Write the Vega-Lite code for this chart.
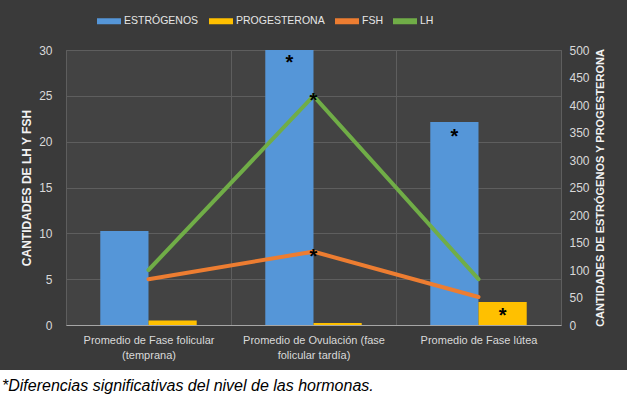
{
  "$schema": "https://vega.github.io/schema/vega-lite/v6.json",
  "background": "#3a3a3a",
  "padding": {"top": 8, "left": 0, "right": 0, "bottom": 0},
  "spacing": 45,
  "bounds": "flush",
  "center": true,
  "datasets": {
    "barras": [
      {"categoria": "Promedio de Fase folicular (temprana)", "hormona": "ESTRÓGENOS", "valor": 171},
      {"categoria": "Promedio de Fase folicular (temprana)", "hormona": "PROGESTERONA", "valor": 8},
      {"categoria": "Promedio de Ovulación (fase folicular tardía)", "hormona": "ESTRÓGENOS", "valor": 500},
      {"categoria": "Promedio de Ovulación (fase folicular tardía)", "hormona": "PROGESTERONA", "valor": 3.5},
      {"categoria": "Promedio de Fase lútea", "hormona": "ESTRÓGENOS", "valor": 369},
      {"categoria": "Promedio de Fase lútea", "hormona": "PROGESTERONA", "valor": 42}
    ],
    "lineas": [
      {"categoria": "Promedio de Fase folicular (temprana)", "hormona": "FSH", "valor": 5.0},
      {"categoria": "Promedio de Ovulación (fase folicular tardía)", "hormona": "FSH", "valor": 8.0},
      {"categoria": "Promedio de Fase lútea", "hormona": "FSH", "valor": 3.05},
      {"categoria": "Promedio de Fase folicular (temprana)", "hormona": "LH", "valor": 6.0},
      {"categoria": "Promedio de Ovulación (fase folicular tardía)", "hormona": "LH", "valor": 25.0},
      {"categoria": "Promedio de Fase lútea", "hormona": "LH", "valor": 5.0}
    ],
    "ast_barras": [
      {"categoria": "Promedio de Ovulación (fase folicular tardía)", "hormona": "ESTRÓGENOS", "valor": 485},
      {"categoria": "Promedio de Fase lútea", "hormona": "ESTRÓGENOS", "valor": 351},
      {"categoria": "Promedio de Fase lútea", "hormona": "PROGESTERONA", "valor": 25}
    ],
    "ast_lineas": [
      {"categoria": "Promedio de Ovulación (fase folicular tardía)", "hormona": "LH", "valor": 25.0},
      {"categoria": "Promedio de Ovulación (fase folicular tardía)", "hormona": "FSH", "valor": 8.0}
    ],
    "nota": [
      {"texto": "*Diferencias significativas del nivel de las hormonas.", "pos": 0}
    ]
  },
  "resolve": {"scale": {"color": "independent"}, "legend": {"color": "independent"}},
  "config": {
    "font": "Liberation Sans",
    "axis": {
      "labelColor": "#d9d9d9",
      "titleColor": "#f2f2f2",
      "titleFontWeight": "bold",
      "titleFontSize": 12,
      "labelFontSize": 12,
      "ticks": false,
      "domain": false,
      "gridColor": "#5e5e5e",
      "gridWidth": 1
    }
  },
  "vconcat": [
    {
      "width": 495,
      "height": 275,
      "view": {"fill": "#434343", "stroke": "#5e5e5e"},
      "encoding": {
        "x": {
          "field": "categoria",
          "type": "nominal",
          "sort": ["Promedio de Fase folicular (temprana)", "Promedio de Ovulación (fase folicular tardía)", "Promedio de Fase lútea"],
          "scale": {"paddingInner": 0, "paddingOuter": 0},
          "axis": {
            "title": null,
            "labelAngle": 0,
            "labelFontSize": 11,
            "labelPadding": 9,
            "labelLineHeight": 15,
            "labelLimit": 200,
            "domain": true,
            "domainColor": "#a6a6a6",
            "grid": true,
            "tickBand": "extent",
            "labelExpr": "datum.label == 'Promedio de Fase folicular (temprana)' ? ['Promedio de Fase folicular', '(temprana)'] : datum.label == 'Promedio de Ovulación (fase folicular tardía)' ? ['Promedio de Ovulación (fase', 'folicular tardía)'] : datum.label"
          }
        }
      },
      "layer": [
        {
          "encoding": {
            "xOffset": {
              "field": "hormona",
              "type": "nominal",
              "sort": ["ESTRÓGENOS", "PROGESTERONA"],
              "scale": {"paddingInner": 0, "paddingOuter": 0.711}
            },
            "y": {
              "field": "valor",
              "type": "quantitative",
              "scale": {"domain": [0, 500], "nice": false},
              "axis": {
                "orient": "right",
                "values": [0, 50, 100, 150, 200, 250, 300, 350, 400, 450, 500],
                "labelOverlap": false,
                "grid": false,
                "labelPadding": 8,
                "title": "CANTIDADES DE ESTRÓGENOS Y PROGESTERONA",
                "titleAngle": 270,
                "titleBaseline": "top",
                "titleFontSize": 11,
                "titlePadding": 5
              }
            }
          },
          "layer": [
            {
              "data": {"name": "barras"},
              "mark": {"type": "bar"},
              "encoding": {
                "color": {
                  "field": "hormona",
                  "type": "nominal",
                  "scale": {
                    "domain": ["ESTRÓGENOS", "PROGESTERONA", "FSH", "LH"],
                    "range": ["#5596d8", "#ffc000", "#ed7d31", "#70ad47"]
                  },
                  "legend": {
                    "orient": "none",
                    "legendX": 31,
                    "legendY": -41,
                    "direction": "horizontal",
                    "title": null,
                    "symbolType": "M-1,-0.25H1V0.25H-1Z",
                    "symbolSize": 576,
                    "symbolStrokeWidth": 0,
                    "symbolOpacity": 1,
                    "labelColor": "#e6e6e6",
                    "labelFontSize": 10.5,
                    "labelOffset": 3,
                    "columnPadding": 10,
                    "padding": 0
                  }
                }
              }
            },
            {
              "data": {"name": "ast_barras"},
              "mark": {"type": "text", "text": "*", "fontSize": 20, "fontWeight": "bold", "color": "#000000", "baseline": "middle", "dy": 5}
            }
          ]
        },
        {
          "encoding": {
            "y": {
              "field": "valor",
              "type": "quantitative",
              "scale": {"domain": [0, 30], "nice": false},
              "axis": {
                "orient": "left",
                "values": [0, 5, 10, 15, 20, 25, 30],
                "grid": true,
                "labelPadding": 14,
                "title": "CANTIDADES DE LH Y FSH",
                "titlePadding": 5
              }
            }
          },
          "layer": [
            {
              "data": {"name": "lineas"},
              "mark": {"type": "line", "strokeWidth": 4, "strokeCap": "round"},
              "encoding": {
                "color": {
                  "field": "hormona",
                  "type": "nominal",
                  "scale": {
                    "domain": ["ESTRÓGENOS", "PROGESTERONA", "FSH", "LH"],
                    "range": ["#5596d8", "#ffc000", "#ed7d31", "#70ad47"]
                  }
                }
              }
            },
            {
              "data": {"name": "ast_lineas"},
              "mark": {"type": "text", "text": "*", "fontSize": 20, "fontWeight": "bold", "color": "#000000", "baseline": "middle", "dy": 5}
            }
          ]
        }
      ],
      "resolve": {"scale": {"y": "independent"}}
    },
    {
      "width": 627,
      "height": 29,
      "view": {"fill": "#ffffff", "stroke": null},
      "data": {"name": "nota"},
      "mark": {"type": "text", "align": "left", "baseline": "middle", "fontStyle": "italic", "fontSize": 16, "color": "#000000", "dx": 2, "dy": 1},
      "encoding": {
        "x": {"field": "pos", "type": "quantitative", "scale": {"domain": [0, 1]}, "axis": null},
        "text": {"field": "texto", "type": "nominal"}
      }
    }
  ]
}
